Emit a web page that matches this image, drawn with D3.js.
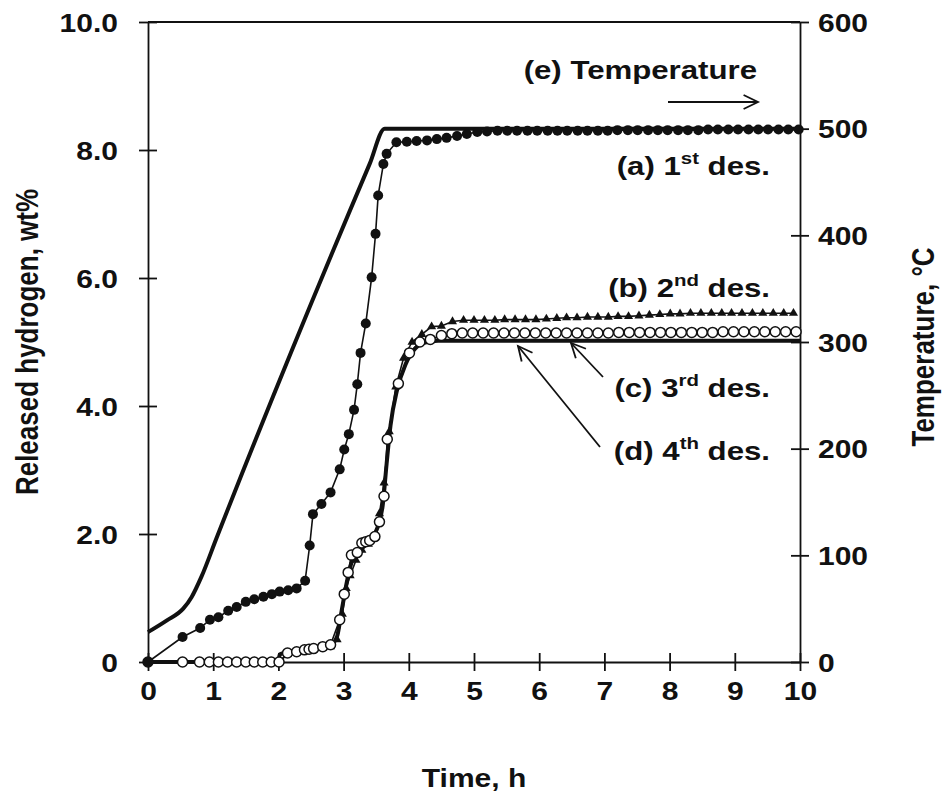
<!DOCTYPE html>
<html>
<head>
<meta charset="utf-8">
<script src="https://cdn.jsdelivr.net/npm/d3@7"></script>
<style>
  body { margin: 0; background: #fff; }
  text { font-family: "Liberation Sans", Arial, sans-serif; font-weight: bold; fill: #111; }
</style>
</head>
<body>
<svg id="chart"></svg>
<script>
let width = 942;
let height = 801;
let ink = "#111";
let sx = 1.2;   // the original lettering is wider than it is tall

// (a) 1st desorption, filled circles: [time h, wt%]
let firstDes = [
  [0, 0], [0.53, 0.39], [0.80, 0.53], [0.95, 0.66], [1.08, 0.70], [1.23, 0.80], [1.36, 0.86],
  [1.50, 0.94], [1.63, 0.98], [1.77, 1.02], [1.90, 1.06], [2.02, 1.10], [2.15, 1.12], [2.28, 1.15],
  [2.41, 1.27], [2.48, 1.82], [2.53, 2.31], [2.66, 2.47], [2.80, 2.65], [2.94, 3.01], [3.01, 3.32],
  [3.08, 3.56], [3.16, 3.94], [3.21, 4.34], [3.26, 4.83], [3.34, 5.29], [3.43, 6.01], [3.49, 6.69],
  [3.53, 7.29], [3.61, 7.78], [3.66, 7.94],
  [3.81, 8.12], [3.97, 8.13], [4.12, 8.14], [4.28, 8.15], [4.43, 8.17], [4.58, 8.19], [4.74, 8.22],
  [4.89, 8.25], [5.05, 8.28], [5.20, 8.29], [5.36, 8.30], [5.51, 8.30], [5.66, 8.30], [5.82, 8.30],
  [5.97, 8.30], [6.13, 8.30], [6.28, 8.30], [6.43, 8.30], [6.59, 8.30], [6.74, 8.30], [6.90, 8.30],
  [7.05, 8.30], [7.20, 8.31], [7.36, 8.31], [7.51, 8.31], [7.67, 8.31], [7.82, 8.31], [7.97, 8.31],
  [8.13, 8.31], [8.28, 8.31], [8.44, 8.31], [8.59, 8.32], [8.74, 8.32], [8.90, 8.32], [9.05, 8.32],
  [9.21, 8.32], [9.36, 8.32], [9.51, 8.32], [9.67, 8.32], [9.82, 8.32], [9.98, 8.32]
];

// (b) 2nd desorption, filled triangles
let secondDes = [
  [0, 0], [0.53, 0], [0.79, 0], [0.94, 0], [1.08, 0], [1.22, 0], [1.36, 0], [1.50, 0], [1.63, 0],
  [1.76, 0], [1.89, 0], [2.01, 0], [2.14, 0.12], [2.28, 0.15], [2.40, 0.18], [2.54, 0.20], [2.68, 0.22],
  [2.80, 0.24], [2.90, 0.35], [2.98, 0.75], [3.04, 1.15], [3.10, 1.35], [3.19, 1.59], [3.28, 1.75],
  [3.38, 1.84], [3.48, 1.95], [3.55, 2.32], [3.62, 2.80], [3.70, 3.60], [3.80, 4.30], [3.92, 4.75],
  [4.05, 5.00], [4.20, 5.12], [4.35, 5.24], [4.50, 5.25], [4.67, 5.32], [4.84, 5.34],
  [5.00, 5.34], [5.16, 5.34], [5.32, 5.34], [5.47, 5.35], [5.63, 5.35], [5.79, 5.35], [5.95, 5.35],
  [6.11, 5.36], [6.27, 5.37], [6.42, 5.38], [6.58, 5.38], [6.74, 5.39], [6.90, 5.39], [7.06, 5.39],
  [7.21, 5.40], [7.37, 5.40], [7.53, 5.41], [7.69, 5.42], [7.85, 5.43], [8.01, 5.44], [8.16, 5.44],
  [8.32, 5.45], [8.48, 5.45], [8.64, 5.45], [8.80, 5.45], [8.95, 5.45], [9.11, 5.45], [9.27, 5.45],
  [9.43, 5.45], [9.59, 5.45], [9.75, 5.45], [9.90, 5.45]
];

// (c) 3rd desorption, open circles
let thirdDes = [
  [0, 0], [0.53, 0], [0.79, 0], [0.94, 0], [1.08, 0], [1.22, 0], [1.36, 0], [1.50, 0], [1.63, 0],
  [1.76, 0], [1.89, 0], [2.01, 0], [2.14, 0.14], [2.28, 0.16], [2.40, 0.19], [2.47, 0.20], [2.54, 0.21],
  [2.68, 0.24], [2.80, 0.27], [2.94, 0.66], [3.01, 1.06], [3.07, 1.40], [3.12, 1.67], [3.21, 1.71],
  [3.28, 1.86], [3.34, 1.88], [3.40, 1.90], [3.48, 1.96], [3.55, 2.19], [3.62, 2.59], [3.67, 3.48],
  [3.84, 4.35], [4.01, 4.83], [4.17, 5.00], [4.33, 5.04], [4.50, 5.10], [4.66, 5.13],
  [4.82, 5.14], [4.98, 5.14], [5.14, 5.14], [5.30, 5.14], [5.46, 5.14], [5.62, 5.14], [5.78, 5.14],
  [5.94, 5.14], [6.10, 5.14], [6.26, 5.14], [6.42, 5.14], [6.58, 5.14], [6.74, 5.14], [6.90, 5.14],
  [7.06, 5.14], [7.22, 5.15], [7.38, 5.15], [7.54, 5.15], [7.70, 5.15], [7.86, 5.15], [8.02, 5.15],
  [8.18, 5.15], [8.34, 5.15], [8.50, 5.15], [8.66, 5.15], [8.82, 5.16], [8.98, 5.16], [9.14, 5.16],
  [9.30, 5.16], [9.46, 5.16], [9.62, 5.16], [9.78, 5.16], [9.94, 5.16]
];

// (d) 4th desorption, bold line without markers
let fourthDes = [
  [0, 0], [2.00, 0], [2.02, 0.12], [2.30, 0.17], [2.60, 0.21], [2.80, 0.26], [2.90, 0.40],
  [2.97, 0.80], [3.05, 1.25], [3.12, 1.55], [3.25, 1.75], [3.40, 1.90], [3.52, 2.10], [3.60, 2.45],
  [3.66, 3.10], [3.72, 3.70], [3.82, 4.25], [3.95, 4.65], [4.10, 4.90], [4.25, 4.99], [4.45, 5.02],
  [10, 5.02]
];

// (e) furnace temperature, degC
let temperature = [
  [0, 28], [0.29, 39], [0.54, 50], [0.67, 61], [0.82, 80], [1.05, 116], [3.40, 467], [3.63, 500], [10, 500]
];

let timeTicks = [0, 1, 2, 3, 4, 5, 6, 7, 8, 9, 10];
let hydrogenTicks = [0, 2, 4, 6, 8, 10];
let tempTicks = [0, 100, 200, 300, 400, 500, 600];

let margin = { left: 148, right: 142, top: 22, bottom: 139 };

let svg = d3.select("#chart")
    .attr("width", width)
    .attr("height", height);

let x = d3.scaleLinear().domain([0, 10]).range([margin.left, width - margin.right]);
let y = d3.scaleLinear().domain([0, 10]).range([height - margin.bottom, margin.top]);
let yT = d3.scaleLinear().domain([0, 600]).range([height - margin.bottom, margin.top]);

// stretched text helper
function label(g, px, py, anchor, size) {
    return g.append("text")
        .attr("transform", `translate(${px},${py}) scale(${sx},1)`)
        .attr("text-anchor", anchor)
        .style("font-size", size + "px");
}

// axes
let xAxis = svg.append("g")
    .attr("transform", `translate(0,${y(0)})`)
    .call(d3.axisBottom(x).tickValues(timeTicks).tickSize(9).tickSizeOuter(0).tickFormat(d3.format("d")));
xAxis.selectAll(".tick line").attr("y1", -9).attr("y2", 9);
xAxis.selectAll(".tick text")
    .attr("y", null).attr("dy", null)
    .attr("transform", `translate(0,38) scale(${sx},1)`);

let yAxis = svg.append("g")
    .attr("transform", `translate(${x(0)},0)`)
    .call(d3.axisLeft(y).tickValues(hydrogenTicks).tickSize(9).tickSizeOuter(0)
        .tickFormat(d => d === 0 ? "0" : d3.format(".1f")(d)));
yAxis.selectAll(".tick line").attr("x1", -9).attr("x2", 9);
yAxis.selectAll(".tick text")
    .attr("x", null).attr("dy", "0.36em")
    .attr("transform", `translate(-30,0) scale(${sx},1)`);

let tAxis = svg.append("g")
    .attr("transform", `translate(${x(10)},0)`)
    .call(d3.axisRight(yT).tickValues(tempTicks).tickSize(9).tickSizeOuter(0).tickFormat(d3.format("d")));
tAxis.selectAll(".tick line").attr("x1", -9).attr("x2", 9);
tAxis.selectAll(".tick text")
    .attr("x", null).attr("dy", "0.36em")
    .attr("transform", `translate(18,0) scale(${sx},1)`);

[xAxis, yAxis, tAxis].forEach(a => {
    a.selectAll("path.domain").attr("stroke", ink).attr("stroke-width", 1.8);
    a.selectAll(".tick line").attr("stroke", ink).attr("stroke-width", 1.8);
    a.selectAll(".tick text").attr("fill", ink).style("font-size", "25px")
        .style("font-family", "'Liberation Sans', Arial, sans-serif").style("font-weight", "bold");
});

// top border
svg.append("line")
    .attr("x1", x(0)).attr("x2", x(10))
    .attr("y1", y(10)).attr("y2", y(10))
    .attr("stroke", ink).attr("stroke-width", 1.8);

// axis titles
label(svg, x(5), 787, "middle", 25).text("Time, h");

svg.append("text")
    .attr("transform", `translate(38,342) rotate(-90) scale(1,${sx})`)
    .attr("text-anchor", "middle")
    .style("font-size", "26px")
    .text("Released hydrogen, wt%");

svg.append("text")
    .attr("transform", `translate(934,347) rotate(-90) scale(1,${sx})`)
    .attr("text-anchor", "middle")
    .style("font-size", "26px")
    .text("Temperature, \u00B0C");

// curves
let line = d3.line().x(d => x(d[0])).y(d => y(d[1]));
let tempLine = d3.line().x(d => x(d[0])).y(d => yT(d[1])).curve(d3.curveMonotoneX);

svg.append("path")
    .datum(temperature)
    .attr("d", tempLine)
    .attr("fill", "none").attr("stroke", ink).attr("stroke-width", 4)
    .attr("stroke-linejoin", "miter");

svg.append("path")
    .datum(fourthDes)
    .attr("d", line.curve(d3.curveMonotoneX))
    .attr("fill", "none").attr("stroke", ink).attr("stroke-width", 4);
line.curve(d3.curveLinear);

// (b) triangles
svg.append("path")
    .datum(secondDes)
    .attr("d", line)
    .attr("fill", "none").attr("stroke", ink).attr("stroke-width", 1.6);
svg.selectAll(".tri")
    .data(secondDes)
    .enter()
    .append("path")
    .attr("class", "tri")
    .attr("d", d3.symbol(d3.symbolTriangle, 36))
    .attr("transform", d => `translate(${x(d[0])},${y(d[1])})`)
    .attr("fill", ink);

// (c) open circles
svg.append("path")
    .datum(thirdDes)
    .attr("d", line)
    .attr("fill", "none").attr("stroke", ink).attr("stroke-width", 1.6);
svg.selectAll(".open")
    .data(thirdDes)
    .enter()
    .append("circle")
    .attr("class", "open")
    .attr("cx", d => x(d[0]))
    .attr("cy", d => y(d[1]))
    .attr("r", 5)
    .attr("fill", "#fff").attr("stroke", ink).attr("stroke-width", 1.5);

// (a) filled circles
svg.append("path")
    .datum(firstDes)
    .attr("d", line)
    .attr("fill", "none").attr("stroke", ink).attr("stroke-width", 1.6);
svg.selectAll(".filled")
    .data(firstDes)
    .enter()
    .append("circle")
    .attr("class", "filled")
    .attr("cx", d => x(d[0]))
    .attr("cy", d => y(d[1]))
    .attr("r", 5)
    .attr("fill", ink);

// annotations
function superLabel(px, py, pre, sup, post) {
    let t = label(svg, px, py, "end", 26);
    t.append("tspan").text(pre);
    t.append("tspan").attr("dy", -11).style("font-size", "17px").text(sup);
    t.append("tspan").attr("dy", 11).text(post);
}

label(svg, 757, 79, "end", 26).text("(e) Temperature");
superLabel(770, 175, "(a) 1", "st", " des.");
superLabel(770, 297, "(b) 2", "nd", " des.");
superLabel(770, 397, "(c) 3", "rd", " des.");
superLabel(770, 460, "(d) 4", "th", " des.");

// open arrows
function arrow(x1, y1, x2, y2) {
    let a = Math.atan2(y2 - y1, x2 - x1);
    let len = 16, spread = 0.45;
    let g = svg.append("g").attr("stroke", ink).attr("stroke-width", 1.8).attr("fill", "none");
    g.append("line").attr("x1", x1).attr("y1", y1).attr("x2", x2).attr("y2", y2);
    g.append("path").attr("d", d3.line()([
        [x2 - len * Math.cos(a - spread), y2 - len * Math.sin(a - spread)],
        [x2, y2],
        [x2 - len * Math.cos(a + spread), y2 - len * Math.sin(a + spread)]
    ]));
}

arrow(668, 102, 758, 102);
arrow(603, 377, 571, 343);
arrow(600, 447, 518, 346);
</script>
</body>
</html>
